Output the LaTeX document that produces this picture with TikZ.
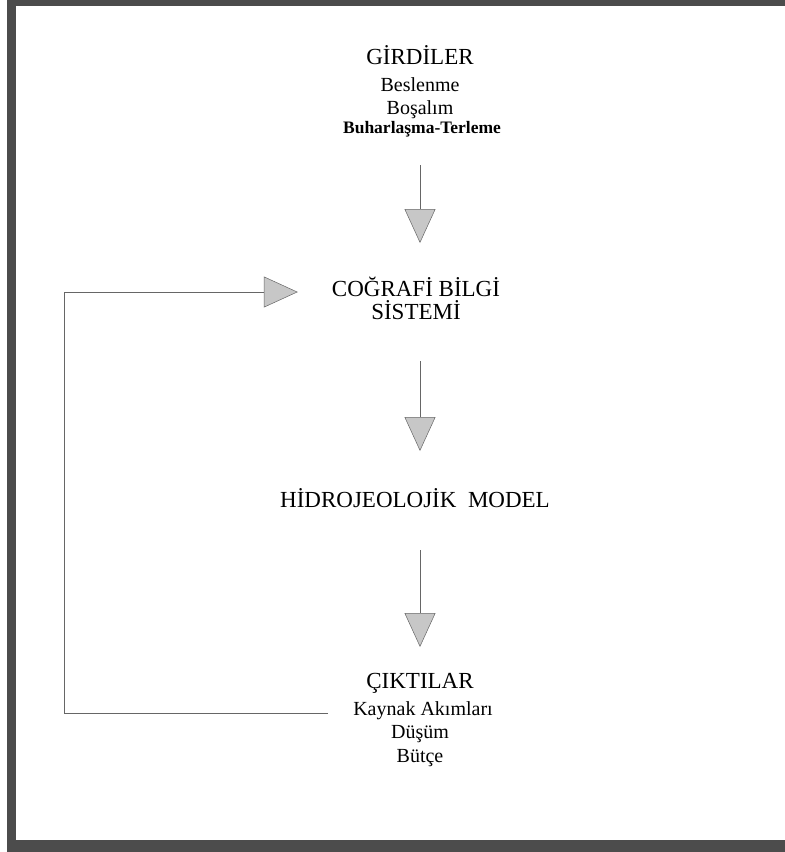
\documentclass[tikz,border=0pt]{standalone}
\usepackage{fontspec}
\setmainfont{Liberation Serif}
\usetikzlibrary{arrows.meta}

\tikzset{
  baslik/.style={font=\fontsize{23}{27}\selectfont, inner sep=0pt, anchor=base},
  satir/.style={font=\fontsize{20}{24}\selectfont, inner sep=0pt, anchor=base},
  akis/.style={draw=black!60, line width=0.5pt,
    -{Triangle[width=31pt,length=34pt,fill=black!22]}},
  kenar/.style={fill=black!70, draw=none}
}

\begin{document}
\begin{tikzpicture}[x=1pt, y=-1pt]
  \def\Xm{420};
  \useasboundingbox (0,0) rectangle (785,852);

        \fill[kenar] (7,0) rectangle (16,852);
        \fill[kenar] (7,0) rectangle (785,6);
        \fill[kenar] (7,840) rectangle (785,852);

        \node[baslik] (girdi) at (\Xm, 64) {GİRDİLER};
        \node[satir] (beslenme) at (\Xm, 91) {Beslenme};
        \node[satir] (bosalim) at (\Xm, 114) {Boşalım};
        \node[satir, font=\bfseries\fontsize{17.5}{21}\selectfont] (buhar) at (\Xm + 2, 133) {Buharlaşma-Terleme};

        \node[baslik] (cbs) at (\Xm - 4, 296) {COĞRAFİ BİLGİ};
        \node[baslik] (sistem) at (\Xm - 4, 319) {SİSTEMİ};

        \node[baslik] (hidro) at (\Xm - 5, 507) {HİDROJEOLOJİK\ \ MODEL};

        \node[baslik] (cikti) at (\Xm, 688) {ÇIKTILAR};
        \node[satir] (kaynak) at (\Xm + 3, 715) {Kaynak Akımları};
        \node[satir] (dusum) at (\Xm, 738) {Düşüm};
        \node[satir] (butce) at (\Xm, 762) {Bütçe};

	\draw[akis] ([yshift=-32pt]beslenme.base |- buhar.base) -- ([yshift=53pt]cbs.base -| beslenme.base);
	\draw[akis] ([yshift=-42pt]sistem.base -| beslenme.base) -- ([yshift=56pt]hidro.base -| beslenme.base);
	\draw[akis] ([yshift=-43pt]hidro.base -| beslenme.base) -- ([yshift=41pt]cikti.base);

	\draw[akis] ([xshift=-25pt, yshift=2pt]kaynak.base west) -- ++(-264,0)
	  |- ([xshift=-34pt, yshift=4pt]cbs.base west);

\end{tikzpicture}
\end{document}
